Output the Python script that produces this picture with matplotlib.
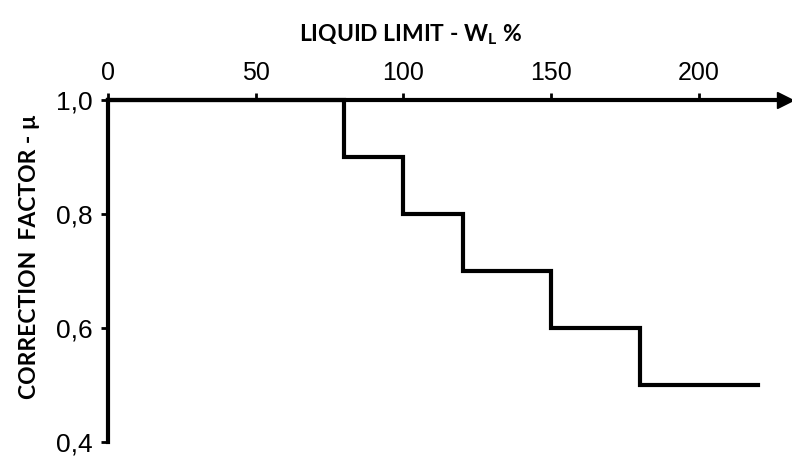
import numpy as np
import matplotlib.pyplot as plt

plt.rcParams['mathtext.fontset'] = 'custom'
plt.rcParams['mathtext.bf'] = 'Lato:bold'
plt.rcParams['mathtext.rm'] = 'Lato:bold'

# step curve: liquid limit vs correction factor
liquid_limit = [0, 80, 100, 120, 150, 180, 220]
correction = [1.0, 0.9, 0.8, 0.7, 0.6, 0.5, 0.5]

x_ticks = [0, 50, 100, 150, 200]
y_ticks = [0.4, 0.6, 0.8, 1.0]
y_tick_labels = ["0,4", "0,6", "0,8", "1,0"]

tick_font = ['Liberation Sans', 'DejaVu Sans']
label_font = ['Lato', 'DejaVu Sans']

fig = plt.figure(figsize=(7.92, 4.59), dpi=100)
ax = fig.add_axes([0.136, 0.037, 0.855, 0.745])

ax.step(liquid_limit, correction, where="post", color="black", lw=3.0,
        solid_joinstyle="miter", clip_on=False)

ax.set_xlim(0, 229)
ax.set_ylim(0.4, 1.0)

ax.spines["right"].set_visible(False)
ax.spines["bottom"].set_visible(False)
ax.spines["left"].set_linewidth(3.0)
ax.spines["top"].set_linewidth(3.0)
ax.plot(1, 1, ">k", markersize=12, transform=ax.transAxes, clip_on=False)

ax.xaxis.tick_top()
ax.set_xticks(x_ticks)
ax.set_xticklabels([str(v) for v in x_ticks], family=tick_font, fontsize=18)
ax.set_yticks(y_ticks)
ax.set_yticklabels(y_tick_labels, family=tick_font, fontsize=19)
ax.tick_params(axis="x", direction="out", length=5, width=2, pad=6)
ax.tick_params(axis="y", direction="out", length=5, width=2, pad=6)

fig.text(0.518, 0.925, r"LIQUID LIMIT - W$_\mathbf{L}$ %", ha="center", va="center",
         fontsize=16.5, fontweight="bold", family=label_font)
fig.text(0.037, 0.44, "CORRECTION  FACTOR - \u00b5", ha="center", va="center",
         rotation=90, fontsize=16.5, fontweight="bold", family=label_font)

plt.savefig("out.png", dpi=100)
plt.close()
